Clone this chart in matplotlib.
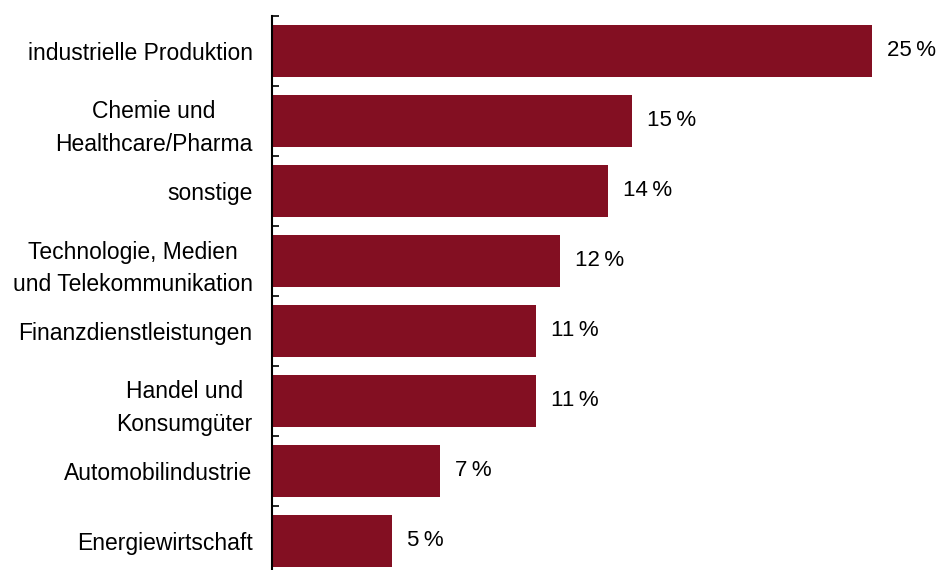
import matplotlib.pyplot as plt
import numpy as np

# Branchenverteilung in Prozent
branchen = ["industrielle Produktion", "Chemie und\nHealthcare/Pharma", "sonstige",
            "Technologie, Medien\nund Telekommunikation", "Finanzdienstleistungen",
            "Handel und\nKonsumgüter", "Automobilindustrie", "Energiewirtschaft"]
anteile = [25, 15, 14, 12, 11, 11, 7, 5]

plt.rcParams['font.family'] = ['Liberation Sans', 'DejaVu Sans']

fig = plt.figure(figsize=(9.41, 5.70), dpi=100)
ax = fig.add_axes([272/941, -6/570, 669/941, 560/570])

y = np.arange(len(branchen))
ax.barh(y, anteile, height=0.75, color="#830f22")
ax.set_ylim(len(branchen) - 0.5, -0.5)
ax.set_xlim(0, 669/24)

for i, v in enumerate(anteile):
    ax.text(v + 0.62, i, f"{v}\u2009%", va="center", ha="left", fontsize=16)

ax.set_yticks(y)
ax.set_yticklabels(branchen, fontsize=16.5, linespacing=1.55, multialignment="center")
ax.tick_params(axis="y", which="major", length=0, pad=14)
ax.set_yticks(np.arange(len(branchen)) - 0.5, minor=True)
ax.tick_params(axis="y", which="minor", length=5, width=1.2, direction="in")
ax.set_xticks([])

for s in ["top", "right", "bottom"]:
    ax.spines[s].set_visible(False)
ax.spines["left"].set_linewidth(1.5)

fig.savefig("out.png", dpi=100)
